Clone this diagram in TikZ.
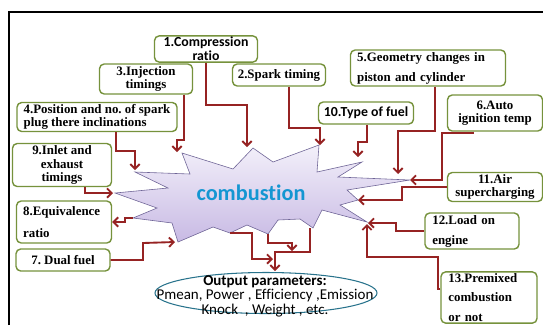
\documentclass[tikz,border=0pt]{standalone}
\usepackage{fontspec}
\setmainfont{Liberation Serif}
\newfontfamily\calib[Ligatures=NoCommon]{Carlito}
\usepackage{tikz}
\usetikzlibrary{arrows.meta,shapes.geometric,calc}
\frenchspacing

\definecolor{boxgreen}{RGB}{118,146,60}
\definecolor{arrred}{RGB}{150,35,35}
\definecolor{comblue}{RGB}{20,150,210}
\definecolor{ovalteal}{RGB}{40,115,140}
\definecolor{starline}{RGB}{110,100,150}
\definecolor{starlight}{RGB}{243,240,250}
\definecolor{stardark}{RGB}{200,186,228}

\begin{document}
\begin{tikzpicture}[x=0.03cm, y=-0.03cm,
  box/.style={draw=boxgreen, line width=1.2pt, rounded corners=4pt, fill=white,
    align=center, inner sep=1pt, font=\rmfamily\bfseries\fontsize{11}{11.5}\selectfont},
  sbox/.style={box, font=\calib\bfseries\fontsize{11.8}{12}\selectfont},
  lbox/.style={box, align=left, inner ysep=1pt},
  arr/.style={draw=arrred, line width=1.6pt, -{Straight Barb[length=4pt,width=8pt]}}]
  \useasboundingbox (0,0) rectangle (543,325);

  % frame
  \draw[line width=2.4pt] (9,325) -- (9,12) -- (543,12);

  % combustion star
  \draw[starline, line width=0.5pt, top color=starlight, bottom color=stardark]
    (115,193) -- (168,188) -- (135,172) -- (190,174) -- (182,153) -- (233,169)
    -- (253,148) -- (273,162) -- (319,145) -- (317,172) -- (362,162) -- (338,177)
    -- (410,180) -- (347,190) -- (358,200) -- (340,205) -- (367,222) -- (322,210)
    -- (313,228) -- (300,219) -- (278,220) -- (268,234) -- (247,225) -- (230,233)
    -- (213,227) -- (178,242) -- (172,223) -- (133,218) -- (157,208) -- cycle;
  \node[font=\calib\bfseries\fontsize{19}{20}\selectfont, text=comblue] (comb) at (251,193) {combustion};

  % arrow ends on the star
  \coordinate (e1) at (247,147);
  \coordinate (e3) at (177,152);
  \coordinate (e4) at (135,170);
  \coordinate (e9) at (113,193);
  \coordinate (e7) at (175,242);
  \coordinate (e2) at (320,145);
  \coordinate (e10) at (358,157);
  \coordinate (e5) at (398,174);
  \coordinate (e6) at (410,180);
  \coordinate (e11) at (358,200);
  \coordinate (e12) at (368,223);
  \coordinate (e13) at (367,224);
  \coordinate (s8) at (133,218);
  \coordinate (sa) at (230,233);
  \coordinate (sb) at (268,234);
  \coordinate (sc) at (310,228);
  \coordinate (oa) at (273,259);
  \coordinate (ob) at (292,251);
  \coordinate (oc) at (275,271);

  % factor boxes
  \node[sbox, minimum width=3.09cm, minimum height=0.78cm] (b1) at (206,49) {1.Compression\\ratio};
  \node[box, minimum width=2.79cm, minimum height=0.9cm] (b3) at (146,79) {3.Injection\\timings};
  \node[box, minimum width=2.79cm, minimum height=0.66cm] (b2) at (279,75) {2.Spark timing};
  \node[lbox, inner xsep=0.2cm, text width=4.25cm, minimum height=1.08cm] (b5) at (428,68)
    {5.Geometry changes in\\[5.5pt]piston and cylinder};
  \node[sbox, minimum width=2.85cm, minimum height=0.66cm] (b10) at (366,113) {10.Type of fuel};
  \node[box, minimum width=2.85cm, minimum height=1.08cm] (b6) at (495,113) {6.Auto\\ignition temp};
  \node[lbox, inner xsep=0.15cm, minimum width=4.8cm, minimum height=0.87cm] (b4) at (97,117)
    {4.Position and no. of spark\\plug there inclinations};
  \node[box, minimum width=2.97cm, minimum height=1.29cm] (b9) at (62,165) {9.Inlet and\\exhaust\\timings};
  \node[lbox, inner xsep=0.2cm, text width=2.45cm, minimum height=1.26cm] (b8) at (64,222)
    {8.Equivalence\\[7pt]ratio};
  \node[box, minimum width=2.82cm, minimum height=0.66cm] (b7) at (63,260) {7. Dual fuel};
  \node[box, minimum width=2.85cm, minimum height=0.87cm] (b11) at (495,187) {11.Air\\supercharging};
  \node[lbox, inner xsep=0.22cm, text width=2.38cm, minimum height=1.08cm] (b12) at (472,231)
    {12.Load on\\[5.5pt]engine};
  \node[lbox, inner xsep=0.22cm, text width=2.44cm, minimum height=1.53cm] (b13) at (489,297.5)
    {13.Premixed\\[5.5pt]combustion\\[5.5pt]or not};

  % output oval
  \node[draw=ovalteal, line width=0.9pt, ellipse, fill=white, minimum width=6.66cm,
    minimum height=1.23cm] (outp) at (266,293) {};
  \node[font=\calib\fontsize{12.8}{12.4}\selectfont, align=center] (outtxt) at (265,296)
    {\textbf{Output parameters:}\\Pmean, Power , Efficiency ,Emission\\Knock\ \ , Weight , etc.};

  % connectors
  \draw[arr] (b1.south) |- (247,105) -- (e1);
  \draw[arr] (b3.south -| 184,0) |- (177,140) -- (e3);
  \draw[arr] (b4.south -| 116,0) |- (135,151) -- (e4);
  \draw[arr] (b9.south -| 85,0) |- (e9);
  \draw[arr] (s8) -| (125,222) -- (b8.east);
  \draw[arr] (b7.east) -| (143,243) -- (e7);
  \draw[arr] (b2.south -| 289,0) |- (320,128) -- (e2);
  \draw[arr] (b10.south -| 367,0) |- (358,142) -- (e10);
  \draw[arr] (b5.south -| 435,0) |- (398,131) -- (e5);
  \draw[arr] (b6.south -| 473,0) |- (442,133) |- (e6);
  \draw[arr] (b11.west) -| (402,200) -- (e11);
  \draw[arr] (b12.west) -| (396,223) -- (e12);
  \draw[arr] (b13.170) -| (438,257) -| (e13);
  \draw[arr] (sa) -| (252,259) -- (oa);
  \draw[arr] (sb) |- (292,243) -- (ob);
  \draw[arr] (sc) |- (275,252) -- (oc);
\end{tikzpicture}
\end{document}
